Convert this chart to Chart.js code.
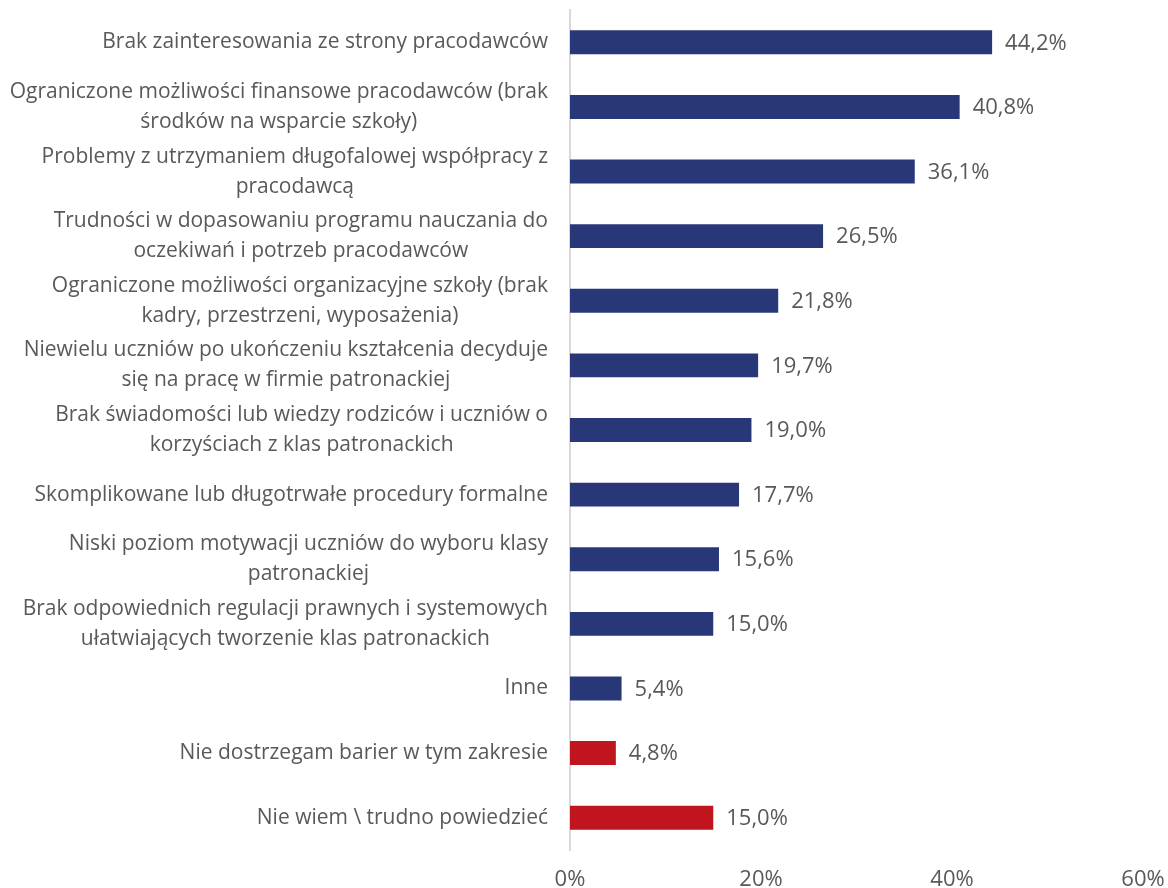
<!DOCTYPE html>
<html><head><meta charset="utf-8">
<script src="https://cdn.jsdelivr.net/npm/chart.js@4"></script>
<style>html,body{margin:0;padding:0;background:#fff}#wrap{width:1168px;height:888px}</style>
</head><body><div id="wrap"><canvas id="c" width="1168" height="888"></canvas></div>
<script>
const categories = [
  "Brak zainteresowania ze strony pracodawców",
  ["Ograniczone możliwości finansowe pracodawców (brak", "środków na wsparcie szkoły)"],
  ["Problemy z utrzymaniem długofalowej współpracy z ", "pracodawcą"],
  ["Trudności w dopasowaniu programu nauczania do", "oczekiwań i potrzeb pracodawców"],
  ["Ograniczone możliwości organizacyjne szkoły (brak", "kadry, przestrzeni, wyposażenia)"],
  ["Niewielu uczniów po ukończeniu kształcenia decyduje", "się na pracę w firmie patronackiej"],
  ["Brak świadomości lub wiedzy rodziców i uczniów o", "korzyściach z klas patronackich"],
  "Skomplikowane lub długotrwałe procedury formalne",
  ["Niski poziom motywacji uczniów do wyboru klasy", "patronackiej"],
  ["Brak odpowiednich regulacji prawnych i systemowych", "ułatwiających tworzenie klas patronackich"],
  "Inne",
  "Nie dostrzegam barier w tym zakresie",
  "Nie wiem \\ trudno powiedzieć"
];
const values = [44.2, 40.8, 36.1, 26.5, 21.8, 19.7, 19.0, 17.7, 15.6, 15.0, 5.4, 4.8, 15.0];
const barColors = ["#283778","#283778","#283778","#283778","#283778","#283778","#283778","#283778","#283778","#283778","#283778","#C0141F","#C0141F"];
const xTicks = [0, 20, 40, 60];

const FONT = "'Open Sans', Lato, sans-serif";
const TEXT = "#595959";

const valueLabels = {
  id: 'valueLabels',
  afterDatasetsDraw(chart) {
    const ctx = chart.ctx;
    const meta = chart.getDatasetMeta(0);
    ctx.save();
    ctx.font = "22px " + FONT;
    ctx.fillStyle = TEXT;
    ctx.textAlign = "left";
    ctx.textBaseline = "middle";
    meta.data.forEach((bar, i) => {
      const txt = values[i].toFixed(1).replace('.', ',') + '%';
      ctx.fillText(txt, bar.x + 13, bar.y + 1);
    });
    ctx.restore();
  }
};

// category labels: block right-aligned at the axis, lines centred within the block
const categoryLabels = {
  id: 'categoryLabels',
  afterDraw(chart) {
    const ctx = chart.ctx;
    const y = chart.scales.y;
    const right = y.right - 22;
    const lineH = 30;
    ctx.save();
    ctx.font = "21px " + FONT;
    ctx.fillStyle = TEXT;
    ctx.textAlign = "center";
    ctx.textBaseline = "middle";
    categories.forEach((lab, i) => {
      const lines = Array.isArray(lab) ? lab : [lab];
      const w = Math.max(...lines.map(l => ctx.measureText(l.trimEnd()).width));
      const cx = right - w / 2;
      const cy = y.getPixelForTick(i);
      const y0 = cy - (lines.length - 1) * lineH / 2;
      lines.forEach((l, k) => ctx.fillText(l.trimEnd(), cx, y0 + k * lineH));
    });
    ctx.restore();
  }
};

new Chart(document.getElementById('c'), {
  type: 'bar',
  data: {
    labels: categories,
    datasets: [{
      data: values,
      backgroundColor: barColors,
      borderWidth: 0,
      barPercentage: 0.74,
      categoryPercentage: 0.5
    }]
  },
  options: {
    indexAxis: 'y',
    responsive: false,
    animation: false,
    layout: { padding: { top: 10, right: 25, left: 0, bottom: 0 } },
    plugins: { legend: { display: false }, tooltip: { enabled: false } },
    scales: {
      x: {
        min: 0, max: 60,
        afterBuildTicks(scale) { scale.ticks = xTicks.map(v => ({ value: v })); },
        afterFit(scale) { scale.paddingLeft = 0; scale.paddingRight = 0; scale.height = 38; },
        grid: { display: false, drawTicks: false },
        border: { display: false },
        ticks: {
          padding: 17,
          color: TEXT,
          font: { family: FONT, size: 22 },
          callback: v => v + '%'
        }
      },
      y: {
        grid: { display: false, drawTicks: false },
        border: { display: true, color: "#d9d9d9", width: 2 },
        afterFit(scale) { scale.width = 570; scale.paddingTop = 0; scale.paddingBottom = 0; },
        ticks: { display: false, autoSkip: false }
      }
    }
  },
  plugins: [valueLabels, categoryLabels]
});
</script></body></html>
